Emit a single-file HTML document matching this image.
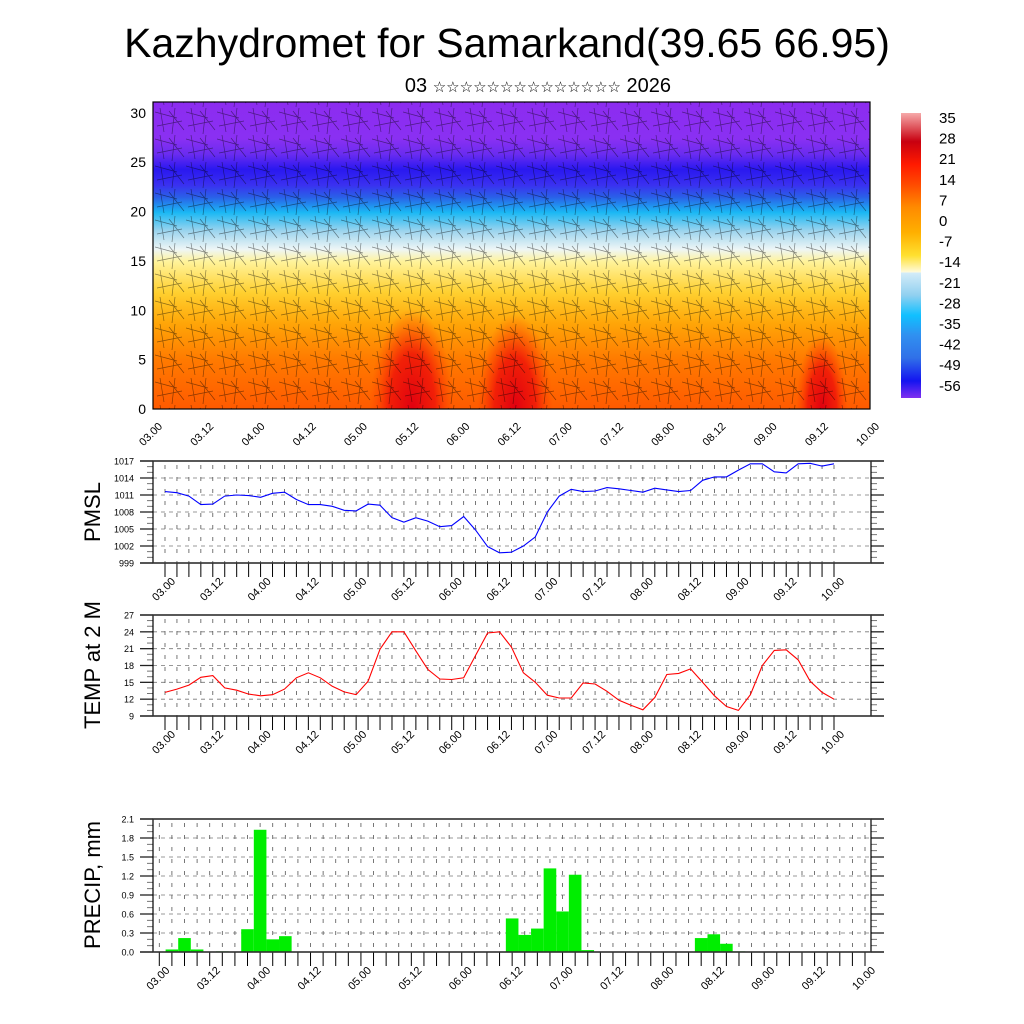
<!DOCTYPE html>
<html><head><meta charset="utf-8"><style>
html,body{margin:0;padding:0;background:#fff;}
svg{display:block;font-family:"Liberation Sans",sans-serif;}
</style></head><body>
<svg id="chart" width="1024" height="1024" viewBox="0 0 1024 1024" xmlns="http://www.w3.org/2000/svg">
<defs>
<clipPath id="fieldClip"><rect x="153" y="102" width="717" height="307"/></clipPath>
<linearGradient id="fieldGrad" x1="0" y1="0" x2="0" y2="1">
<stop offset="0" stop-color="#8c2cf0"/>
<stop offset="0.12" stop-color="#8a30f2"/>
<stop offset="0.17" stop-color="#6a2cf0"/>
<stop offset="0.22" stop-color="#2a18f0"/>
<stop offset="0.27" stop-color="#3a30f0"/>
<stop offset="0.31" stop-color="#2a60e8"/>
<stop offset="0.36" stop-color="#1ab8f4"/>
<stop offset="0.42" stop-color="#9cd4ee"/>
<stop offset="0.48" stop-color="#eef6f6"/>
<stop offset="0.52" stop-color="#fff39a"/>
<stop offset="0.62" stop-color="#ffd030"/>
<stop offset="0.72" stop-color="#ffa608"/>
<stop offset="0.84" stop-color="#ff7a00"/>
<stop offset="1" stop-color="#ff5a00"/>
</linearGradient>
<radialGradient id="hot" cx="0.5" cy="0.5" r="0.5">
<stop offset="0" stop-color="#e00010" stop-opacity="1"/>
<stop offset="0.55" stop-color="#f01808" stop-opacity="0.9"/>
<stop offset="1" stop-color="#ff4000" stop-opacity="0"/>
</radialGradient>
<linearGradient id="cbGrad" x1="0" y1="0" x2="0" y2="1">
<stop offset="0" stop-color="#f6aaaa"/>
<stop offset="0.1" stop-color="#c80010"/>
<stop offset="0.18" stop-color="#ff1a00"/>
<stop offset="0.25" stop-color="#ff4a00"/>
<stop offset="0.33" stop-color="#ff8a00"/>
<stop offset="0.42" stop-color="#ffb000"/>
<stop offset="0.5" stop-color="#ffe030"/>
<stop offset="0.56" stop-color="#fffbe0"/>
<stop offset="0.56" stop-color="#d4ecf8"/>
<stop offset="0.64" stop-color="#90d0f0"/>
<stop offset="0.71" stop-color="#10c0ff"/>
<stop offset="0.78" stop-color="#3090f0"/>
<stop offset="0.86" stop-color="#3070e8"/>
<stop offset="0.94" stop-color="#1414f0"/>
<stop offset="1" stop-color="#8030f0"/>
</linearGradient>
<pattern id="barbs" width="31" height="27" patternUnits="userSpaceOnUse">
<path d="M0 4 L22 10 M5 0 L9 24 M14 3 L29 22 M2 18 L27 13 M20 0 L17 26" stroke="#000" stroke-width="0.7" fill="none" opacity="0.45"/>
</pattern>
</defs>

<text x="507" y="57" font-size="41" text-anchor="middle">Kazhydromet for Samarkand(39.65 66.95)</text>
<text x="538" y="92" font-size="20" text-anchor="middle" font-family="Liberation Sans, DejaVu Sans, sans-serif">03 <tspan font-size="15">☆☆☆☆☆☆☆☆☆☆☆☆☆☆</tspan> 2026</text>

<g>
<g clip-path="url(#fieldClip)">
<rect x="153" y="102" width="717" height="307" fill="url(#fieldGrad)"/>
<ellipse cx="412" cy="409" rx="42" ry="100" fill="url(#hot)"/>
<ellipse cx="515" cy="409" rx="38" ry="95" fill="url(#hot)"/>
<ellipse cx="822" cy="409" rx="26" ry="75" fill="url(#hot)"/>
<rect x="153" y="102" width="717" height="307" fill="url(#barbs)"/>
</g>
<rect x="153" y="102" width="717" height="307" fill="none" stroke="#000" stroke-width="1.2"/>
<g id="topAxes"></g>
</g>

<g>
<rect x="901" y="113" width="20" height="285" fill="url(#cbGrad)"/>
<g id="cbLabels"></g>
</g>

<g id="pmsl"></g>
<g id="temp"></g>
<g id="precip"></g>

<text transform="translate(100,512) rotate(-90)" font-size="22" text-anchor="middle">PMSL</text>
<text transform="translate(100,665) rotate(-90)" font-size="22" text-anchor="middle">TEMP at 2 M</text>
<text transform="translate(100,885) rotate(-90)" font-size="22" text-anchor="middle">PRECIP, mm</text>
</svg>
<script>
const timeLabels = ["03.00","03.12","04.00","04.12","05.00","05.12","06.00","06.12","07.00","07.12","08.00","08.12","09.00","09.12","10.00"];
const heightTicks = [0,5,10,15,20,25,30];
const colorbarLabels = ["35","28","21","14","7","0","-7","-14","-21","-28","-35","-42","-49","-56"];
const pmslValues = [1011.6,1011.4,1010.8,1009.3,1009.4,1010.8,1011.0,1010.9,1010.6,1011.3,1011.5,1010.2,1009.3,1009.3,1009.0,1008.3,1008.2,1009.4,1009.2,1007.0,1006.2,1007.0,1006.4,1005.4,1005.6,1007.2,1004.8,1001.9,1000.8,1000.9,1002.0,1003.6,1008.0,1010.8,1012.0,1011.6,1011.7,1012.3,1012.1,1011.8,1011.5,1012.2,1011.9,1011.6,1011.8,1013.6,1014.2,1014.2,1015.4,1016.5,1016.5,1015.1,1014.9,1016.5,1016.6,1016.1,1016.5];
const pmslTicks = [999,1002,1005,1008,1011,1014,1017];
const tempValues = [13.2,13.8,14.5,15.9,16.2,14.0,13.6,12.9,12.6,12.8,13.8,15.8,16.7,15.8,14.3,13.3,12.8,15.2,20.9,24.0,24.0,20.6,17.3,15.6,15.5,15.8,19.8,23.8,24.0,21.3,16.7,15.0,12.7,12.2,12.2,14.9,14.7,13.4,11.8,10.9,10.1,12.3,16.4,16.6,17.4,15.0,12.6,10.7,10.0,12.8,18.0,20.7,20.8,19.0,15.2,13.2,12.0];
const tempTicks = [9,12,15,18,21,24,27];
const precipValues = [0,0.04,0.22,0.04,0,0.01,0,0.36,1.93,0.2,0.25,0,0,0,0,0,0,0,0,0,0,0,0,0,0,0,0,0,0.53,0.27,0.37,1.32,0.64,1.22,0.03,0,0,0,0,0,0,0,0,0.22,0.28,0.13,0.01,0,0,0,0,0,0,0,0,0,0];
const precipTicks = ["0.0","0.3","0.6","0.9","1.2","1.5","1.8","2.1"];

const NS="http://www.w3.org/2000/svg";
function mk(parent,tag,attrs){const e=document.createElementNS(NS,tag);for(const k in attrs)e.setAttribute(k,attrs[k]);parent.appendChild(e);return e;}

(function(){
  const g=document.getElementById('topAxes');
  const x0=153,x1=870,y0=409,y1=102;
  const ys=v=>y0-(v/31.1)*(y0-y1);
  heightTicks.forEach(v=>{
    const t=mk(g,'text',{x:146,y:ys(v)+5,'font-size':14,'text-anchor':'end'});
    
    
    t.textContent=v;
  });
  timeLabels.forEach((s,i)=>{
    const x=x0+i*(x1-x0)/(timeLabels.length-1);
    const t=mk(g,'text',{transform:`translate(${x+10},${y0+18}) rotate(-45)`,'font-size':11,'text-anchor':'end'});
    
    
    t.textContent=s;
  });
})();
(function(){
  const g=document.getElementById('cbLabels');
  colorbarLabels.forEach((s,i)=>{
    const t=mk(g,'text',{x:939,y:123+i*20.6,'font-size':15});
    
    
    t.textContent=s;
  });
})();

function panel(id,cfg){
  const g=document.getElementById(id);
  const L=153,R=871,T=cfg.top,B=cfg.bottom;
  const n=57;
  const xs=i=>cfg.tx0+i*(cfg.tx1-cfg.tx0)/(n-1);
  const ys=v=>B-(v-cfg.min)/(cfg.max-cfg.min)*(B-T);
  cfg.ticks.forEach(v=>{
    const y=ys(+v);
    if(y>T+1&&y<B-1){const l=mk(g,'line',{x1:L,x2:R,y1:y,y2:y,stroke:'#777','stroke-width':0.8,'stroke-dasharray':'4 4'});
      }
  });
  for(let i=0;i<n;i++){
    const x=xs(i);
    const l=mk(g,'line',{x1:x,x2:x,y1:T+4,y2:B,stroke:'#555','stroke-width':0.8,'stroke-dasharray':'4 8'});
    
    const tk=mk(g,'line',{x1:x,x2:x,y1:B,y2:B+14,stroke:'#000','stroke-width':1});
    
  }
  const step=(cfg.max-cfg.min)/((cfg.ticks.length-1)*3);
  for(let k=0;k<=(cfg.ticks.length-1)*3;k++){
    const y=ys(cfg.min+k*step);const major=k%3==0;
    [[L-(major?13:6),L],[R,R+(major?13:6)]].forEach(p=>{
      const l=mk(g,'line',{x1:p[0],x2:p[1],y1:y,y2:y,stroke:major?'#222':'#666','stroke-width':major?1.3:0.9});
      
    });
  }
  if(cfg.type==='line'){
    const pts=cfg.values.map((v,i)=>xs(i).toFixed(1)+','+ys(v).toFixed(1)).join(' ');
    const pl=mk(g,'polyline',{points:pts,fill:'none',stroke:cfg.color,'stroke-width':1.1});
    
  } else {
    const w=(cfg.tx1-cfg.tx0)/(n-1);
    cfg.values.forEach((v,i)=>{
      if(v<=0)return;
      const r=mk(g,'rect',{x:xs(i)-w/2,y:ys(v),width:w,height:B-ys(v),fill:'#00ee00'});
      
    });
  }
  const f=mk(g,'rect',{x:L,y:T,width:R-L,height:B-T,fill:'none',stroke:'#000','stroke-width':1.2});
  
  [T,B].forEach(y=>{const l=mk(g,'line',{x1:L-13,x2:R+13,y1:y,y2:y,stroke:'#333','stroke-width':1.4});
    });
  cfg.ticks.forEach(v=>{
    const t=mk(g,'text',{x:L-19,y:ys(+v)+3.5,'font-size':9,'text-anchor':'end'});
    
    t.textContent=v;
  });
  timeLabels.forEach((s,i)=>{
    const x=xs(i*4);
    const t=mk(g,'text',{transform:`translate(${x+11},${B+19}) rotate(-45)`,'font-size':11,'text-anchor':'end'});
    
    t.textContent=s;
  });
}
panel('pmsl',{top:461,bottom:563,min:999,max:1017,ticks:pmslTicks,values:pmslValues,type:'line',color:'#0000ff',seriesName:'pmsl-line',tx0:165,tx1:834});
panel('temp',{top:615,bottom:716,min:9,max:27,ticks:tempTicks,values:tempValues,type:'line',color:'#ff0000',seriesName:'temp-line',tx0:165,tx1:834});
panel('precip',{top:819,bottom:952,min:0,max:2.1,ticks:precipTicks,values:precipValues,type:'bar',tx0:159.3,tx1:865});
</script>
</body></html>
